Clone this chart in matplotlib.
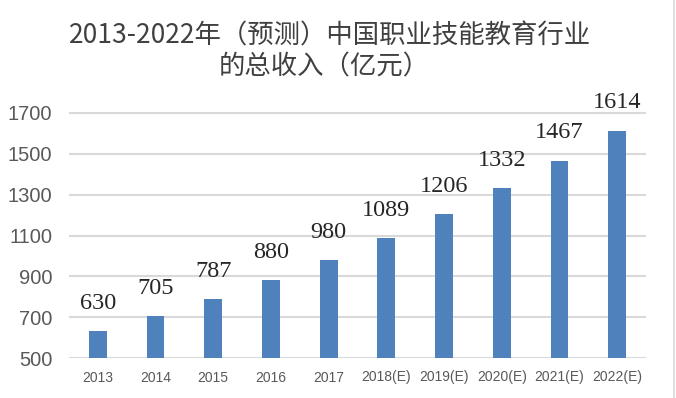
import numpy as np
import matplotlib.pyplot as plt
from matplotlib.lines import Line2D

plt.rcParams['font.family'] = ['Noto Sans CJK SC', 'DejaVu Sans']

years = ['2013', '2014', '2015', '2016', '2017', '2018(E)', '2019(E)',
         '2020(E)', '2021(E)', '2022(E)']
income = [630, 705, 787, 880, 980, 1089, 1206, 1332, 1467, 1614]
yticks = [500, 700, 900, 1100, 1300, 1500, 1700]

bar_color = '#4F81BD'
text_color = '#595959'

fig = plt.figure(figsize=(6.76, 3.98), dpi=100)
ax = fig.add_axes([69/676, 1 - 358/398, 577/676, (358 - 95)/398])

x = np.arange(len(years))
ax.bar(x, income, width=0.31, color=bar_color, zorder=3)

# value labels above the bars
for xi, v in zip(x, income):
    ax.annotate(str(v), (xi, v), xytext=(0, 16), textcoords='offset points',
                ha='center', va='baseline', fontsize=17.5,
                family='Liberation Serif', color='#262626')

ax.set_ylim(500, 500 + 200 * (358 - 95) / ((358 - 113) / 6))
ax.set_xlim(-0.5, len(years) - 0.5)
ax.set_yticks(yticks)
ax.set_yticklabels([str(t) for t in yticks], fontsize=14.5, color=text_color,
                   family='Liberation Sans')
ax.set_xticks(x)
ax.set_xticklabels(years, fontsize=10, color=text_color, family='Liberation Sans')
ax.tick_params(length=0, axis='both')
ax.tick_params(axis='y', pad=12)
ax.tick_params(axis='x', pad=9)
ax.grid(axis='y', color='#D9D9D9', linewidth=1.5, zorder=0)
for s in ax.spines.values():
    s.set_visible(False)

fig.text(330/676, 1 - 36/398, '2013-2022年（预测）中国职业技能教育行业',
         ha='center', va='center', fontsize=19, color='#404040')
fig.text(324/676, 1 - 67/398, '的总收入（亿元）',
         ha='center', va='center', fontsize=19, color='#404040')

# right edge of the chart frame
fig.add_artist(Line2D([673.5/676, 673.5/676], [0, 1], color='#D9D9D9',
                      linewidth=1.2, transform=fig.transFigure))

fig.savefig('out.png', dpi=100)
